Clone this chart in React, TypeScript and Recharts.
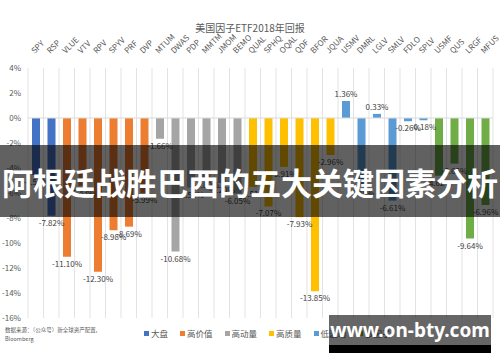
import { Bar, BarChart, CartesianGrid, Cell, LabelList, ReferenceLine, XAxis, YAxis } from 'recharts'

const tickers = [
  'SPY', 'RSP',
  'VLUE', 'VTV', 'RPV', 'SPYV', 'PRF', 'DVP',
  'MTUM', 'DWAS', 'PDP', 'MMTM', 'JMOM', 'BEMO',
  'QUAL', 'SPHQ', 'OQAL', 'QDF', 'BFOR', 'JQUA',
  'USMV', 'DMRL', 'LGLV', 'SMLV', 'FDLO', 'SPLV',
  'USMF', 'QUS', 'LRGF', 'MFUS',
]

// which factor group each ticker belongs to (index into groupNames)
const tickerGroup = [
  0, 0,
  1, 1, 1, 1, 1, 1,
  2, 2, 2, 2, 2, 2,
  3, 3, 3, 3, 3, 3,
  4, 4, 4, 4, 4, 4,
  5, 5, 5, 5,
]

// 2018 returns in %
const returns2018 = [
  -4.56, -7.82,
  -11.1, -5.43, -12.3, -8.98, -8.69, -5.99,
  -1.66, -10.68, -5.56, -4.8, -5.2, -6.05,
  -5.51, -7.07, -3.91, -7.93, -13.85, -2.96,
  1.36, -5.4, 0.33, -6.61, -0.26, -0.18,
  -4.62, -3.65, -9.64, -6.96,
]

const groupNames = ['大盘', '高价值', '高动量', '高质量', '低波动', '多因子']
const groupColors = ['#4472C4', '#ED7D31', '#A5A5A5', '#FFC000', '#5B9BD5', '#70AD47']
const yTicks = [4, 2, 0, -2, -4, -6, -8, -10, -12, -14, -16]

const FONT = '"Noto Sans CJK SC", "Noto Sans", sans-serif'

const data = tickers.map((ticker, i) => ({
  ticker,
  value: returns2018[i],
  group: tickerGroup[i],
}))

function TickerTick(props: any) {
  const { x, y, payload } = props
  const tx = x - 1
  const ty = y - 6
  return (
    <text
      x={tx}
      y={ty}
      transform={`rotate(-45 ${tx} ${ty})`}
      textAnchor="start"
      fontSize={8}
      fill="#595959"
      fontFamily={FONT}
    >
      {payload.value}
    </text>
  )
}

function ValueLabel(props: any) {
  const { x, y, width, height, value } = props
  const top = Math.min(y, y + height)
  const bottom = Math.max(y, y + height)
  const ty = value >= 0 ? top - 4 : bottom + 10
  return (
    <text
      x={x + width / 2}
      y={ty}
      textAnchor="middle"
      fontSize={8}
      fill="#404040"
      fontFamily={FONT}
    >
      {Number(value).toFixed(2)}%
    </text>
  )
}

export default function App() {
  return (
    <div
      style={{
        position: 'absolute',
        left: 0,
        top: 0,
        width: 500,
        height: 362,
        background: '#fff',
        fontFamily: FONT,
        overflow: 'hidden',
      }}
    >
      <div
        style={{
          position: 'absolute',
          top: 20,
          left: 0,
          width: 500,
          textAlign: 'center',
          fontSize: 10,
          color: '#595959',
        }}
      >
        美国因子ETF2018年回报
      </div>

      <BarChart
        width={500}
        height={362}
        data={data}
        margin={{ top: 38, right: 7, bottom: 44, left: 0 }}
      >
        <CartesianGrid
          horizontal={false}
          stroke="#e3e3e3"
          verticalCoordinatesGenerator={({ offset }: any) =>
            Array.from(
              { length: tickers.length + 1 },
              (_, i) => offset.left + (i * offset.width) / tickers.length,
            )
          }
        />
        <XAxis
          dataKey="ticker"
          orientation="top"
          axisLine={false}
          tickLine={false}
          interval={0}
          height={30}
          tick={<TickerTick />}
        />
        <YAxis
          type="number"
          domain={[-16, 4]}
          ticks={yTicks}
          tickFormatter={(v) => `${v}%`}
          axisLine={false}
          tickLine={false}
          tickMargin={1}
          width={28}
          tick={{ fontSize: 8, fill: '#595959', fontFamily: FONT }}
        />
        <ReferenceLine y={0} stroke="#d9d9d9" />
        <Bar dataKey="value" barSize={8} isAnimationActive={false}>
          {data.map((entry, index) => (
            <Cell key={`cell-${index}`} fill={groupColors[entry.group]} />
          ))}
          <LabelList dataKey="value" content={<ValueLabel />} />
        </Bar>
      </BarChart>

      <div
        style={{
          position: 'absolute',
          left: 5,
          top: 326,
          fontSize: 5.5,
          lineHeight: '9px',
          color: '#595959',
        }}
      >
        数据来源：（公众号）新全球资产配置,
        <br />
        Bloomberg
      </div>

      <div
        style={{
          position: 'absolute',
          left: 144,
          top: 327,
          display: 'flex',
          gap: 12,
          fontSize: 8.5,
          color: '#595959',
          lineHeight: '12px',
        }}
      >
        {groupNames.map((name, i) => (
          <div key={name} style={{ display: 'flex', alignItems: 'center' }}>
            <span
              style={{
                display: 'inline-block',
                width: 5,
                height: 5,
                background: groupColors[i],
                marginRight: 2,
              }}
            />
            {name}
          </div>
        ))}
      </div>

      <div
        style={{
          position: 'absolute',
          left: 0,
          top: 145,
          width: 500,
          height: 72,
          background: 'rgba(0,0,0,0.62)',
          color: '#fff',
          fontWeight: 700,
          fontSize: 31,
          display: 'flex',
          alignItems: 'center',
          justifyContent: 'center',
          whiteSpace: 'nowrap',
        }}
      >
        阿根廷战胜巴西的五大关键因素分析
      </div>

      <div
        style={{
          position: 'absolute',
          left: 329,
          top: 315,
          width: 162,
          height: 30,
          background: 'rgba(0,0,0,0.6)',
          color: '#fff',
          fontWeight: 700,
          fontSize: 19,
          display: 'flex',
          alignItems: 'center',
          justifyContent: 'center',
          fontFamily: '"Noto Sans", sans-serif',
        }}
      >
        www.on-bty.com
      </div>
      <div
        style={{
          position: 'absolute',
          left: 329,
          top: 345,
          width: 162,
          height: 8,
          background: '#000',
        }}
      />
    </div>
  )
}
